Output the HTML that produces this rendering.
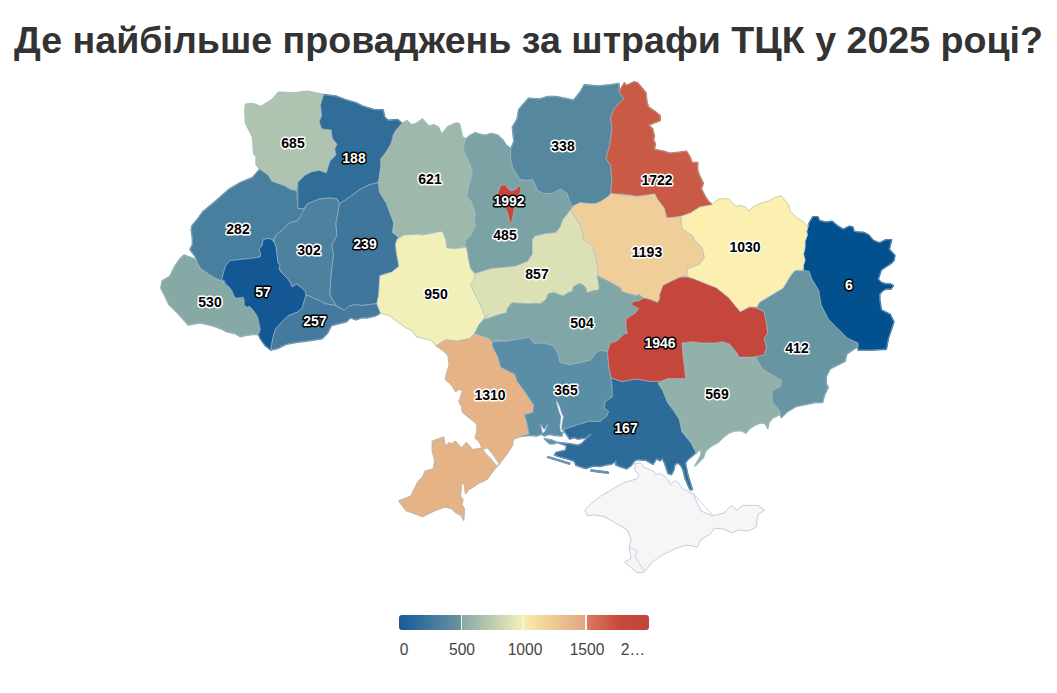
<!DOCTYPE html>
<html><head><meta charset="utf-8"><style>
html,body{margin:0;padding:0;background:#fff;}
body{width:1057px;height:693px;position:relative;overflow:hidden;font-family:"Liberation Sans",sans-serif;}
h1{position:absolute;left:0;top:0;width:1057px;margin:0;text-align:center;font-size:37.6px;line-height:40px;padding-top:20px;font-weight:bold;color:#333;white-space:nowrap;}
svg{position:absolute;left:0;top:0;}
.map path{stroke:#a9bccc;stroke-width:0.7;stroke-opacity:0.85;stroke-linejoin:round;}
.map path.cr{stroke:#bcc6de;stroke-width:0.9;stroke-opacity:1;}
.map path.crl{fill:none;stroke:#bcc6de;stroke-width:0.8;stroke-opacity:1;}
.map path.d{stroke-width:1.6;stroke-opacity:1;}
.lab text{font-family:"Liberation Sans",sans-serif;font-weight:bold;font-size:14px;fill:#000;stroke:#fff;stroke-width:3px;paint-order:stroke;stroke-linejoin:round;text-anchor:middle;dominant-baseline:central;}
.lab text.w{fill:#fff;stroke:#000;}
.legend{position:absolute;left:399px;top:615px;width:250px;height:15px;border-radius:3px;background:linear-gradient(90deg,#175a9b 0%,#6a92a0 24.5%,#86aba6 25.5%,#f3f0b8 49.5%,#f7eca9 50.5%,#e2a57e 74.5%,#d9785f 75.5%,#c8493c 88%,#c4433a 100%);}
.tick{position:absolute;top:615px;width:1.6px;height:15px;background:#f4f8fa;}
.ll{position:absolute;top:641px;font-size:15.6px;color:#444;transform:translateX(-50%);line-height:18px;}
</style></head><body>
<h1>Де найбільше проваджень за штрафи ТЦК у 2025 році?</h1>
<svg width="1057" height="693" viewBox="0 0 1057 693">
<g class="map"><path class="d" d="M245.6,104.3 L252.9,103.5 L260.9,106.7 L272.2,99.5 L278.6,92.2 L293.1,93.0 L307.5,91.4 L323.6,94.6 L320.5,105.0 L321.7,115.7 L319.3,121.7 L321.7,128.8 L331.2,130.0 L332.4,138.3 L337.1,144.3 L334.8,149.0 L336.0,155.0 L330.0,161.0 L326.4,172.9 L319.3,170.5 L312.1,171.7 L305.0,175.2 L297.9,182.4 L296.7,190.7 L290.7,189.5 L284.8,186.0 L271.7,181.2 L268.1,175.2 L259.8,169.3 L256.2,164.5 L256.2,156.2 L253.8,153.8 L252.6,137.1 L247.9,127.6 L245.5,122.9 L245.0,111.0Z" style="fill:#afc4b0;stroke:#afc4b0"/><path class="d" d="M323.6,94.6 L336.5,96.3 L344.5,99.5 L355.8,102.7 L362.2,105.9 L375.1,109.9 L383.1,109.9 L384.7,117.2 L388.0,120.4 L397.6,119.6 L402.4,123.6 L399.2,128.4 L393.1,134.8 L390.7,144.3 L383.6,156.2 L380.0,170.5 L378.8,182.4 L369.3,184.8 L359.8,189.5 L350.2,196.7 L339.5,203.8 L337.1,199.0 L330.0,197.9 L319.3,199.0 L307.4,203.8 L303.8,208.6 L297.9,208.6 L297.9,182.4 L305.0,175.2 L312.1,171.7 L319.3,170.5 L326.4,172.9 L330.0,161.0 L336.0,155.0 L334.8,149.0 L337.1,144.3 L332.4,138.3 L331.2,130.0 L321.7,128.8 L319.3,121.7 L321.7,115.7 L320.5,105.0Z" style="fill:#306e99;stroke:#306e99"/><path class="d" d="M259.8,169.3 L268.1,175.2 L271.7,181.2 L284.8,186.0 L290.7,189.5 L296.7,190.7 L297.9,208.6 L304.5,209.0 L303.8,215.7 L297.9,220.5 L289.5,222.9 L283.6,228.8 L276.4,234.8 L272.9,241.9 L272.5,239.7 L268.2,238.4 L263.2,239.7 L262.0,245.8 L258.9,249.5 L260.8,253.2 L260.2,256.9 L253.4,258.1 L241.1,259.4 L230.0,260.6 L225.7,265.5 L223.9,271.7 L221.4,280.9 L214.0,277.8 L206.7,272.9 L200.5,268.6 L196.8,261.8 L195.6,256.9 L190.1,249.5 L192.5,244.6 L192.5,238.4 L191.3,229.8 L191.9,226.1 L196.8,220.0 L196.7,220.5 L202.6,212.1 L216.9,200.2 L228.8,189.5 L240.7,182.4 L252.6,177.6Z" style="fill:#497f9e;stroke:#497f9e"/><path class="d" d="M183.9,255.1 L189.4,256.9 L195.6,259.4 L197.4,263.0 L200.5,268.6 L206.7,272.9 L214.0,277.8 L221.4,280.9 L226.3,285.2 L230.1,288.1 L232.1,291.1 L234.1,296.2 L236.2,298.2 L243.2,297.2 L244.2,300.2 L244.2,305.3 L247.3,307.3 L249.3,306.3 L253.3,310.3 L255.4,313.3 L257.4,316.4 L258.4,320.4 L259.4,325.5 L260.4,329.5 L258.4,334.5 L252.3,334.5 L246.3,335.1 L240.2,336.6 L235.2,333.5 L230.1,332.5 L226.1,331.5 L223.0,329.5 L220.0,328.5 L214.5,326.2 L200.2,322.6 L188.3,325.0 L178.8,314.3 L169.3,304.8 L164.5,295.2 L161.0,288.1 L162.1,281.0 L169.8,276.6 L174.7,266.7 L179.6,259.4Z" style="fill:#86a9a6;stroke:#86a9a6"/><path class="d" d="M221.4,280.9 L223.9,271.7 L225.7,265.5 L230.0,260.6 L241.1,259.4 L253.4,258.1 L260.2,256.9 L260.8,253.2 L258.9,249.5 L262.0,245.8 L263.2,239.7 L268.2,238.4 L272.5,239.7 L274.3,242.1 L275.9,246.0 L277.1,254.6 L277.8,262.0 L280.2,265.7 L279.0,268.1 L280.8,271.8 L285.7,276.7 L288.2,279.2 L290.7,282.9 L291.9,286.6 L296.8,284.1 L301.7,287.8 L305.4,291.5 L306.0,295.2 L302.0,308.4 L297.3,312.2 L287.8,316.0 L282.2,321.6 L275.5,329.2 L272.7,338.7 L270.8,350.0 L265.5,345.7 L262.4,341.6 L260.4,338.6 L258.4,334.5 L260.4,329.5 L259.4,325.5 L258.4,320.4 L257.4,316.4 L255.4,313.3 L253.3,310.3 L249.3,306.3 L247.3,307.3 L244.2,305.3 L244.2,300.2 L243.2,297.2 L236.2,298.2 L234.1,296.2 L232.1,291.1 L230.1,288.1 L226.1,284.0 L224.0,280.0Z" style="fill:#135895;stroke:#135895"/><path class="d" d="M304.5,209.0 L307.4,203.8 L319.3,199.0 L330.0,197.9 L337.1,199.0 L339.5,203.8 L338.3,211.0 L336.0,222.9 L336.8,236.1 L332.5,243.5 L331.9,246.0 L333.7,254.6 L332.5,263.2 L331.3,273.0 L330.6,282.9 L330.0,295.2 L333.7,301.3 L336.8,306.3 L333.7,305.0 L325.1,303.8 L321.4,301.3 L314.0,298.3 L310.3,296.4 L306.0,295.2 L305.4,291.5 L301.7,287.8 L296.8,284.1 L291.9,286.6 L290.7,282.9 L288.2,279.2 L285.7,276.7 L280.8,271.8 L279.0,268.1 L280.2,265.7 L277.8,262.0 L277.1,254.6 L275.9,246.0 L273.4,239.8 L272.9,241.9 L276.4,234.8 L283.6,228.8 L289.5,222.9 L297.9,220.5Z" style="fill:#4d829f;stroke:#4d829f"/><path class="d" d="M339.5,203.8 L350.2,196.7 L359.8,189.5 L369.3,184.8 L378.8,182.4 L379.5,191.9 L386.7,203.8 L390.2,213.3 L393.8,222.9 L392.6,232.4 L398.6,237.1 L395.5,244.8 L396.7,254.3 L399.0,266.2 L391.9,272.1 L380.0,275.7 L379.6,280.0 L378.7,295.1 L376.8,303.7 L369.2,304.6 L361.6,305.5 L354.1,304.6 L348.4,306.5 L344.6,310.3 L340.8,308.4 L336.8,306.3 L333.7,301.3 L330.0,295.2 L330.6,282.9 L331.3,273.0 L332.5,263.2 L333.7,254.6 L331.9,246.0 L332.5,243.5 L336.8,236.1 L336.0,222.9 L338.3,211.0Z" style="fill:#3e779b;stroke:#3e779b"/><path class="d" d="M306.0,295.2 L310.3,296.4 L314.0,298.3 L321.4,301.3 L325.1,303.8 L333.7,305.0 L336.8,306.3 L340.8,308.4 L344.6,310.3 L348.4,306.5 L354.1,304.6 L361.6,305.5 L369.2,304.6 L376.8,303.7 L380.6,313.1 L374.9,316.0 L367.3,317.8 L361.6,317.8 L356.0,319.7 L350.3,317.8 L346.5,321.6 L331.4,325.4 L327.6,333.0 L321.9,338.7 L310.5,340.5 L295.4,342.4 L286.0,344.3 L278.4,348.1 L270.8,350.0 L272.7,338.7 L275.5,329.2 L282.2,321.6 L287.8,316.0 L297.3,312.2 L302.0,308.4Z" style="fill:#437a9e;stroke:#437a9e"/><path class="d" d="M402.2,123.1 L407.1,120.7 L411.1,124.8 L415.9,123.9 L422.3,119.1 L428.8,126.4 L433.6,124.8 L438.4,127.2 L441.6,134.4 L448.1,126.4 L456.1,123.1 L459.3,123.9 L462.5,136.8 L465.8,139.2 L462.9,149.0 L467.6,158.6 L472.4,170.5 L468.5,186.9 L467.3,197.3 L470.8,200.8 L473.1,205.4 L475.4,214.6 L474.3,219.3 L475.4,226.2 L473.1,230.8 L470.8,235.4 L466.2,240.0 L465.0,244.7 L466.2,247.6 L460.4,248.1 L454.6,248.7 L446.6,248.1 L446.0,242.4 L444.8,237.7 L443.1,233.1 L440.8,231.4 L433.9,233.1 L424.6,234.8 L420.0,235.4 L403.8,235.2 L396.7,240.0 L398.6,237.1 L392.6,232.4 L393.8,222.9 L390.2,213.3 L386.7,203.8 L379.5,191.9 L378.3,182.4 L380.7,170.5 L380.7,158.6 L386.7,151.4 L392.6,141.9 L395.0,131.2Z" style="fill:#9eb9ab;stroke:#9eb9ab"/><path class="d" d="M465.8,139.2 L470.6,135.2 L475.4,132.8 L480.2,134.4 L485.1,135.2 L491.5,133.6 L497.9,135.2 L502.8,140.0 L506.0,144.9 L510.8,148.9 L510.5,158.6 L512.9,168.1 L520.0,179.6 L526.9,180.2 L532.7,179.6 L535.0,184.2 L537.3,190.0 L543.1,193.5 L552.3,193.5 L560.4,188.8 L563.8,191.2 L567.3,193.5 L568.5,198.1 L570.8,203.8 L573.1,206.2 L570.8,209.6 L567.3,214.2 L562.7,220.0 L560.4,226.9 L555.8,232.7 L545.4,233.8 L535.0,236.2 L532.4,240.0 L532.4,254.3 L527.6,261.4 L515.7,266.2 L506.2,267.4 L491.9,268.6 L480.0,272.1 L475.2,273.3 L470.5,268.6 L468.1,261.4 L466.2,249.5 L466.2,247.6 L465.0,244.7 L466.2,240.0 L470.8,235.4 L473.1,230.8 L475.4,226.2 L474.3,219.3 L475.4,214.6 L473.1,205.4 L470.8,200.8 L467.3,197.3 L468.5,186.9 L470.8,180.0 L472.4,170.5 L467.6,158.6 L462.9,149.0Z" style="fill:#7ba2a4;stroke:#7ba2a4"/><path class="d" d="M510.8,148.9 L514.0,141.6 L512.4,127.2 L517.2,119.1 L518.8,109.5 L528.5,98.2 L539.7,99.0 L547.8,96.6 L555.8,96.6 L565.0,98.2 L562.9,97.9 L573.6,100.2 L579.5,93.1 L584.3,84.8 L598.6,86.0 L610.5,84.8 L618.8,83.6 L619.0,84.5 L619.0,91.7 L623.8,98.8 L614.3,108.3 L610.7,117.9 L611.9,129.8 L609.5,146.4 L606.0,158.3 L610.7,165.5 L611.9,179.8 L610.7,194.0 L611.2,193.5 L607.7,196.9 L600.8,201.5 L595.0,203.8 L589.2,203.8 L585.8,203.3 L580.0,202.7 L573.1,206.2 L570.8,203.8 L568.5,198.1 L567.3,193.5 L563.8,191.2 L560.4,188.8 L552.3,193.5 L543.1,193.5 L537.3,190.0 L535.0,184.2 L532.7,179.6 L526.9,180.2 L520.0,179.6 L512.9,168.1 L510.5,158.6Z" style="fill:#55889f;stroke:#55889f"/><path class="d" d="M624.4,82.8 L626.3,85.6 L633.8,81.9 L637.5,82.8 L643.2,89.4 L646.0,93.1 L646.9,102.5 L648.8,107.2 L655.4,111.9 L660.1,115.7 L660.1,120.4 L648.8,125.1 L652.5,128.8 L654.4,136.3 L653.5,140.1 L655.4,143.8 L654.4,149.5 L663.8,151.3 L669.4,153.2 L678.8,152.3 L686.3,151.3 L690.1,157.0 L692.0,162.6 L697.6,162.6 L697.6,170.1 L699.5,175.7 L703.2,183.2 L701.3,188.9 L705.1,196.4 L708.9,202.0 L712.6,204.8 L700.0,207.1 L690.5,213.1 L683.3,215.5 L671.4,217.9 L666.7,217.9 L664.3,208.3 L657.1,198.8 L654.8,194.0 L638.1,196.4 L623.8,194.0 L610.7,194.0 L611.9,179.8 L610.7,165.5 L606.0,158.3 L609.5,146.4 L611.9,129.8 L610.7,117.9 L614.3,108.3 L623.8,98.8 L619.0,91.7Z" style="fill:#c95a45;stroke:#c95a45"/><path class="d" d="M570.8,209.6 L573.1,206.2 L580.0,202.7 L585.8,203.3 L589.2,203.8 L595.0,203.8 L600.8,201.5 L607.7,196.9 L611.2,193.5 L618.1,194.6 L623.8,195.8 L630.8,195.8 L635.4,196.9 L640.0,195.8 L638.1,196.4 L654.8,194.0 L657.1,198.8 L664.3,208.3 L666.7,217.9 L680.7,216.7 L681.9,228.6 L692.6,235.7 L695.0,240.5 L702.1,247.6 L704.5,257.1 L699.8,264.3 L687.9,269.0 L686.7,276.2 L680.0,277.3 L672.4,280.8 L667.8,283.1 L663.1,285.4 L659.7,294.6 L659.7,299.3 L657.4,302.7 L655.1,301.6 L649.3,299.3 L643.5,298.1 L638.9,294.6 L635.4,295.8 L633.1,294.6 L627.3,293.5 L621.6,291.2 L620.4,287.7 L615.8,285.4 L610.0,281.9 L603.1,278.5 L597.3,275.0 L597.9,271.5 L597.3,265.8 L593.9,260.0 L595.5,256.7 L583.5,240.0 L582.3,231.5 L580.0,224.6 L575.4,217.7Z" style="fill:#f0ce99;stroke:#f0ce99"/><path class="d" d="M470.5,275.7 L480.0,272.1 L491.9,268.6 L515.7,266.2 L527.6,261.4 L532.4,254.3 L532.4,240.0 L535.0,236.2 L545.4,233.8 L555.8,232.7 L560.4,226.9 L562.7,220.0 L567.3,214.2 L570.8,209.6 L575.4,217.7 L580.0,224.6 L582.3,231.5 L583.5,240.0 L591.9,244.8 L595.5,256.7 L597.3,265.8 L597.9,271.5 L597.3,276.2 L598.5,283.1 L599.1,287.7 L598.5,290.0 L593.9,290.6 L588.1,292.3 L586.9,292.5 L585.8,287.9 L582.4,284.5 L579.0,283.4 L573.3,286.8 L572.2,291.4 L568.8,292.5 L563.1,295.9 L559.7,294.8 L554.0,292.5 L548.3,293.6 L546.1,299.3 L540.4,303.8 L534.7,303.3 L529.0,303.8 L521.1,303.3 L512.0,302.7 L507.5,308.4 L506.3,312.9 L500.7,314.1 L490.4,317.5 L483.6,319.7 L480.0,304.3 L475.2,294.8 L470.5,285.2Z" style="fill:#dbe1b4;stroke:#dbe1b4"/><path class="d" d="M420.0,235.4 L424.6,234.8 L433.9,233.1 L440.8,231.4 L443.1,233.1 L444.8,237.7 L446.0,242.4 L446.6,248.1 L454.6,248.7 L460.4,248.1 L466.2,247.6 L467.3,251.6 L468.5,260.0 L470.5,268.6 L475.2,275.7 L470.5,285.2 L475.2,294.8 L480.0,304.3 L484.8,316.2 L480.0,325.7 L474.3,333.8 L469.5,338.6 L457.6,341.0 L445.7,339.8 L436.2,345.7 L431.6,340.5 L424.1,338.7 L416.5,336.8 L412.7,331.1 L405.2,327.3 L397.6,321.6 L390.0,316.0 L380.6,313.1 L376.8,303.7 L378.7,295.1 L379.6,280.0 L380.0,275.7 L391.9,272.1 L399.0,266.2 L396.7,254.3 L395.5,244.8 L396.7,240.0 L403.8,235.2 L422.9,234.0Z" style="fill:#f2f0b9;stroke:#f2f0b9"/><path class="d" d="M483.6,319.7 L490.4,317.5 L500.7,314.1 L506.3,312.9 L507.5,308.4 L512.0,302.7 L521.1,303.3 L529.0,303.8 L534.7,303.3 L540.4,303.8 L546.1,299.3 L548.3,293.6 L554.0,292.5 L559.7,294.8 L563.1,295.9 L568.8,292.5 L572.2,291.4 L573.3,286.8 L579.0,283.4 L582.4,284.5 L585.8,287.9 L586.9,292.5 L588.1,292.3 L593.9,290.6 L598.5,290.0 L599.1,287.7 L598.5,283.1 L597.3,276.2 L603.1,278.5 L610.0,281.9 L615.8,285.4 L620.4,287.7 L621.6,291.2 L627.3,293.5 L633.1,294.6 L635.4,295.8 L638.9,294.6 L643.5,298.1 L640.0,300.4 L634.3,301.6 L630.8,303.9 L634.3,306.2 L638.9,308.5 L635.4,313.1 L629.7,316.6 L626.2,318.9 L626.2,327.0 L627.3,333.9 L625.0,340.0 L617.1,341.0 L610.0,343.3 L607.6,352.9 L600.5,350.5 L595.7,352.9 L591.0,360.0 L581.4,362.4 L569.5,364.8 L560.0,362.4 L557.6,352.9 L552.9,345.7 L543.3,343.3 L533.8,343.3 L529.0,337.4 L521.9,338.6 L507.6,341.0 L495.7,339.8 L492.1,342.1 L488.6,338.6 L481.4,336.2 L474.3,333.8 L479.0,324.3 L483.8,319.5 L488.6,313.6Z" style="fill:#80a6a6;stroke:#80a6a6"/><path class="d" d="M436.2,345.7 L445.7,339.8 L457.6,341.0 L469.5,338.6 L474.3,333.8 L481.4,336.2 L488.6,338.6 L492.1,342.1 L492.1,345.7 L498.1,357.6 L500.5,367.1 L510.0,371.9 L514.8,374.3 L517.1,381.4 L524.3,391.0 L529.0,398.1 L533.8,405.2 L532.6,412.4 L524.3,414.8 L526.7,421.9 L529.0,433.8 L527.6,434.3 L513.3,439.0 L512.3,445.6 L506.8,453.8 L498.6,464.8 L494.5,468.9 L487.6,478.5 L483.5,481.2 L479.4,482.6 L475.3,485.4 L471.2,488.1 L468.4,489.5 L465.7,493.6 L464.3,484.0 L461.6,482.6 L460.2,496.3 L462.9,499.8 L461.6,504.6 L464.3,508.7 L463.6,520.1 L461.0,515.2 L456.2,512.9 L451.4,508.1 L444.3,506.9 L434.8,510.5 L430.0,512.9 L422.9,516.4 L415.7,514.0 L406.2,510.5 L402.6,505.7 L399.0,501.0 L411.0,496.2 L413.3,491.4 L418.1,481.9 L422.9,477.1 L425.2,471.2 L433.6,468.8 L434.8,460.5 L432.4,451.0 L432.4,441.4 L435.5,440.1 L443.7,437.3 L445.1,446.9 L449.2,442.8 L451.9,444.2 L455.4,441.5 L461.6,448.3 L466.4,442.8 L472.5,449.7 L482.1,448.3 L479.4,441.5 L475.3,438.0 L476.6,433.2 L477.3,425.0 L474.6,421.6 L468.6,417.2 L462.5,412.0 L461.6,406.0 L459.0,401.6 L460.8,397.3 L462.5,391.3 L459.9,388.7 L455.6,391.3 L453.0,386.9 L449.5,382.6 L446.1,380.0 L445.7,376.7 L449.3,364.8 L448.1,355.2 L443.3,350.5Z" style="fill:#e6b386;stroke:#e6b386"/><path class="d" d="M492.1,342.1 L507.6,341.0 L521.9,338.6 L529.0,337.4 L533.8,343.3 L543.3,343.3 L552.9,345.7 L557.6,352.9 L560.0,362.4 L569.5,364.8 L581.4,362.4 L591.0,360.0 L595.7,352.9 L600.5,350.5 L607.6,351.7 L608.8,367.1 L611.2,377.9 L612.3,390.0 L612.3,396.9 L605.4,401.5 L604.2,407.3 L608.8,411.9 L606.5,416.5 L603.1,418.8 L600.8,421.2 L595.0,421.7 L589.2,421.2 L582.3,423.5 L577.7,424.6 L571.9,426.9 L566.2,428.7 L564.1,428.7 L561.7,435.9 L553.8,435.1 L549.0,434.3 L544.3,435.9 L541.1,434.3 L536.3,435.9 L530.0,435.1 L520.0,436.2 L529.0,433.8 L526.7,421.9 L524.3,414.8 L532.6,412.4 L533.8,405.2 L529.0,398.1 L524.3,391.0 L517.1,381.4 L514.8,374.3 L510.0,371.9 L500.5,367.1 L498.1,357.6 L492.1,345.7Z" style="fill:#5a8da6;stroke:#5a8da6"/><path class="d" d="M611.2,377.9 L621.9,381.4 L636.2,379.0 L650.5,381.4 L660.0,381.4 L658.1,383.3 L662.9,390.5 L667.6,402.4 L672.4,409.5 L679.5,419.5 L681.9,431.4 L691.4,443.3 L696.2,452.9 L694.6,453.8 L687.7,459.6 L685.4,463.1 L687.7,474.6 L692.3,489.6 L690.0,489.6 L685.4,479.2 L683.1,470.0 L680.8,465.4 L678.5,463.1 L675.0,464.2 L673.8,470.0 L671.5,474.6 L668.1,473.5 L664.6,463.1 L662.3,458.5 L660.0,460.8 L656.5,458.5 L653.1,464.2 L646.2,460.2 L638.1,459.6 L634.6,460.8 L631.2,465.4 L626.5,468.8 L619.6,466.5 L615.6,464.8 L616.2,460.8 L611.5,464.2 L606.9,464.8 L600.0,466.5 L593.5,466.0 L585.6,468.4 L576.0,465.2 L574.4,461.3 L564.9,458.1 L558.6,456.5 L554.6,454.9 L556.2,452.5 L565.7,450.2 L566.5,445.4 L557.0,442.6 L561.7,443.0 L569.7,443.8 L577.6,445.4 L581.6,443.8 L591.1,434.3 L584.0,438.3 L577.6,439.0 L574.4,437.5 L569.7,439.0 L564.9,431.9 L564.1,428.7 L566.2,428.7 L571.9,426.9 L577.7,424.6 L582.3,423.5 L589.2,421.2 L595.0,421.7 L600.8,421.2 L603.1,418.8 L606.5,416.5 L608.8,411.9 L604.2,407.3 L605.4,401.5 L612.3,396.9 L612.3,390.0Z" style="fill:#2d6b98;stroke:#2d6b98"/><path class="d" d="M658.1,383.3 L667.6,378.6 L685.5,378.6 L684.3,366.7 L683.1,357.1 L681.9,342.9 L691.4,341.7 L703.3,342.9 L715.2,342.9 L722.4,341.7 L729.5,344.0 L736.7,352.4 L739.0,357.1 L753.3,357.1 L755.7,352.4 L758.1,359.5 L762.9,369.0 L774.8,376.2 L781.9,381.0 L779.5,388.1 L772.4,395.2 L774.8,402.4 L779.5,409.5 L779.5,414.8 L772.3,418.1 L768.8,422.7 L767.7,428.5 L765.4,423.8 L760.8,422.7 L755.0,425.0 L749.2,428.5 L745.8,433.1 L742.3,430.8 L735.4,430.8 L728.5,433.1 L722.7,437.7 L718.1,442.3 L710.0,446.9 L705.4,451.5 L703.3,457.6 L695.0,466.0 L701.0,455.2 L701.0,448.1 L696.2,452.9 L691.4,443.3 L681.9,431.4 L679.5,419.5 L674.8,410.0 L667.6,402.4 L662.9,390.5Z" style="fill:#92b1ab;stroke:#92b1ab"/><path class="d" d="M756.4,307.9 L759.3,302.4 L771.2,295.2 L783.1,288.1 L790.2,276.2 L795.0,270.2 L803.3,270.2 L809.3,271.4 L811.7,278.6 L818.8,290.5 L821.2,304.8 L828.3,319.0 L835.5,326.2 L847.4,338.1 L858.1,342.9 L858.2,346.3 L852.5,350.0 L846.9,353.8 L845.0,361.3 L837.5,365.0 L830.0,368.8 L826.3,376.3 L826.3,383.8 L828.2,387.5 L824.4,395.0 L822.5,402.5 L815.0,402.5 L805.7,404.4 L796.3,406.3 L786.9,411.9 L781.3,417.5 L779.4,410.0 L772.8,402.5 L771.9,391.3 L781.3,385.7 L781.3,380.0 L768.1,372.5 L762.5,368.8 L756.9,359.4 L755.0,353.8 L764.0,354.8 L766.4,347.6 L764.0,338.1 L767.6,333.3 L766.4,323.8 L764.0,311.9Z" style="fill:#6796a2;stroke:#6796a2"/><path class="d" d="M813.0,216.7 L817.8,216.7 L819.4,220.6 L825.7,222.2 L832.1,221.4 L836.8,225.4 L843.2,229.4 L849.5,226.2 L852.7,227.0 L854.3,231.7 L863.8,232.5 L868.6,234.9 L873.3,240.5 L879.7,242.9 L886.0,239.7 L891.6,239.7 L890.0,246.0 L889.2,249.2 L894.8,255.6 L894.0,260.3 L890.8,263.5 L886.0,266.7 L881.3,269.8 L879.7,274.6 L878.1,279.4 L881.3,282.5 L886.0,284.1 L890.8,284.1 L893.2,285.7 L890.8,288.9 L886.0,288.9 L882.9,290.5 L879.7,293.7 L879.7,300.0 L881.3,310.0 L890.1,314.4 L893.8,321.9 L888.2,338.8 L886.3,349.1 L871.3,350.0 L858.2,350.0 L858.1,342.9 L847.4,338.1 L835.5,326.2 L828.3,319.0 L821.2,304.8 L818.8,290.5 L811.7,278.6 L809.3,271.4 L803.3,270.2 L803.5,265.1 L805.1,260.3 L803.5,254.0 L805.1,247.6 L805.1,241.3 L807.5,234.9 L806.7,231.7 L808.3,225.4 L809.8,222.2Z" style="fill:#03508f;stroke:#03508f"/><path class="d" d="M681.0,217.9 L683.3,215.5 L690.5,213.1 L700.0,207.1 L711.9,204.8 L718.4,199.2 L728.3,198.6 L735.7,206.6 L740.6,205.4 L745.5,207.2 L748.6,210.9 L752.9,207.2 L761.5,202.9 L768.9,201.1 L775.0,197.4 L781.2,196.1 L788.6,204.8 L789.8,210.9 L797.2,218.3 L803.3,222.0 L808.2,226.9 L808.3,225.4 L806.7,231.7 L807.5,234.9 L805.1,241.3 L805.1,247.6 L803.5,254.0 L805.1,260.3 L803.5,265.1 L803.3,270.2 L795.0,270.2 L790.2,276.2 L783.1,288.1 L771.2,295.2 L759.3,302.4 L756.9,307.1 L749.8,307.1 L740.2,311.9 L728.3,297.6 L716.4,288.1 L692.6,278.6 L686.7,276.2 L687.9,269.0 L699.8,264.3 L704.5,257.1 L702.1,247.6 L695.0,240.5 L692.6,235.7 L681.9,228.6 L681.2,220.2Z" style="fill:#fcf0b1;stroke:#fcf0b1"/><path class="d" d="M643.5,298.1 L649.3,299.3 L655.1,301.6 L657.4,302.7 L659.7,299.3 L659.7,294.6 L663.1,285.4 L667.8,283.1 L672.4,280.8 L680.0,277.3 L686.7,277.4 L692.6,278.6 L716.4,288.1 L728.3,297.6 L740.2,311.9 L749.8,307.1 L756.9,308.3 L764.0,311.9 L766.4,323.8 L767.6,333.3 L764.0,338.1 L766.4,347.6 L764.0,354.8 L753.3,357.1 L739.0,357.1 L736.7,352.4 L729.5,344.0 L722.4,341.7 L715.2,342.9 L703.3,342.9 L691.4,341.7 L681.9,342.9 L683.1,357.1 L684.3,366.7 L685.5,378.6 L667.6,378.6 L660.0,381.4 L650.5,381.4 L636.2,379.0 L621.9,381.4 L611.2,377.9 L608.8,367.1 L607.6,351.7 L610.0,343.3 L617.1,341.0 L624.3,333.8 L627.3,333.9 L626.2,327.0 L626.2,318.9 L629.7,316.6 L635.4,313.1 L638.9,308.5 L634.3,306.2 L630.8,303.9 L634.3,301.6 L640.0,300.4Z" style="fill:#c5463a;stroke:#c5463a"/><path class="d" d="M500.8,185.2 L505.2,184.9 L508.8,189.6 L511.7,191.0 L516.7,188.8 L518.9,185.9 L521.0,187.4 L520.3,192.4 L517.4,196.8 L515.3,201.8 L515.3,206.9 L513.8,209.8 L513.1,215.5 L512.0,219.9 L511.7,223.5 L510.2,223.5 L509.1,218.4 L507.7,213.4 L506.2,209.8 L504.4,206.9 L500.8,201.1 L498.7,196.1 L497.9,192.4 L499.4,189.6Z" style="fill:#c8453a;stroke:#c8453a"/><path class="d" d="M544.3,438.7 L550.6,439.8 L557.0,442.2 L553.8,443.8 L549.8,443.8Z" style="fill:#5a8da6;stroke:#5a8da6"/><path class="d" d="M547.5,457.3 L549.0,457.1 L569.7,463.3 L569.3,464.1Z" style="fill:#2d6b98;stroke:#2d6b98"/><path class="d" d="M591.1,470.0 L607.8,472.0 L608.2,473.3 L591.1,471.0Z" style="fill:#2d6b98;stroke:#2d6b98"/><path class="cr" d="M634.9,463.8 L640.5,462.8 L644.3,467.6 L650.0,469.5 L653.8,471.4 L655.7,475.1 L659.5,473.2 L663.3,475.1 L667.0,478.9 L670.8,484.6 L674.6,480.8 L678.4,482.7 L682.2,488.4 L689.7,492.2 L693.5,494.1 L697.3,503.5 L701.1,511.1 L712.5,515.8 L723.8,513.0 L731.4,505.4 L737.0,510.1 L742.7,505.4 L757.9,505.4 L764.5,510.1 L757.9,514.9 L756.0,527.2 L748.4,531.0 L738.9,530.0 L731.4,532.8 L723.8,529.1 L714.3,528.1 L710.6,533.8 L701.1,539.5 L697.3,547.0 L686.0,545.1 L674.6,548.9 L663.3,554.6 L651.9,562.2 L646.2,569.7 L642.4,572.6 L636.8,572.6 L629.2,566.0 L624.5,562.2 L631.1,558.4 L629.2,547.0 L631.1,539.5 L627.3,530.0 L617.8,524.3 L604.6,516.8 L595.1,514.9 L587.6,515.8 L584.7,510.1 L591.4,503.5 L600.8,496.0 L612.2,489.3 L623.5,482.7 L636.8,478.9 L638.7,475.1 L634.9,469.5Z" fill="#f6f6f6"/><path d="M245.6,104.3 L252.9,103.5 L260.9,106.7 L272.2,99.5 L278.6,92.2 L293.1,93.0 L307.5,91.4 L323.6,94.6 L320.5,105.0 L321.7,115.7 L319.3,121.7 L321.7,128.8 L331.2,130.0 L332.4,138.3 L337.1,144.3 L334.8,149.0 L336.0,155.0 L330.0,161.0 L326.4,172.9 L319.3,170.5 L312.1,171.7 L305.0,175.2 L297.9,182.4 L296.7,190.7 L290.7,189.5 L284.8,186.0 L271.7,181.2 L268.1,175.2 L259.8,169.3 L256.2,164.5 L256.2,156.2 L253.8,153.8 L252.6,137.1 L247.9,127.6 L245.5,122.9 L245.0,111.0Z" fill="#afc4b0"/><path d="M323.6,94.6 L336.5,96.3 L344.5,99.5 L355.8,102.7 L362.2,105.9 L375.1,109.9 L383.1,109.9 L384.7,117.2 L388.0,120.4 L397.6,119.6 L402.4,123.6 L399.2,128.4 L393.1,134.8 L390.7,144.3 L383.6,156.2 L380.0,170.5 L378.8,182.4 L369.3,184.8 L359.8,189.5 L350.2,196.7 L339.5,203.8 L337.1,199.0 L330.0,197.9 L319.3,199.0 L307.4,203.8 L303.8,208.6 L297.9,208.6 L297.9,182.4 L305.0,175.2 L312.1,171.7 L319.3,170.5 L326.4,172.9 L330.0,161.0 L336.0,155.0 L334.8,149.0 L337.1,144.3 L332.4,138.3 L331.2,130.0 L321.7,128.8 L319.3,121.7 L321.7,115.7 L320.5,105.0Z" fill="#306e99"/><path d="M259.8,169.3 L268.1,175.2 L271.7,181.2 L284.8,186.0 L290.7,189.5 L296.7,190.7 L297.9,208.6 L304.5,209.0 L303.8,215.7 L297.9,220.5 L289.5,222.9 L283.6,228.8 L276.4,234.8 L272.9,241.9 L272.5,239.7 L268.2,238.4 L263.2,239.7 L262.0,245.8 L258.9,249.5 L260.8,253.2 L260.2,256.9 L253.4,258.1 L241.1,259.4 L230.0,260.6 L225.7,265.5 L223.9,271.7 L221.4,280.9 L214.0,277.8 L206.7,272.9 L200.5,268.6 L196.8,261.8 L195.6,256.9 L190.1,249.5 L192.5,244.6 L192.5,238.4 L191.3,229.8 L191.9,226.1 L196.8,220.0 L196.7,220.5 L202.6,212.1 L216.9,200.2 L228.8,189.5 L240.7,182.4 L252.6,177.6Z" fill="#497f9e"/><path d="M183.9,255.1 L189.4,256.9 L195.6,259.4 L197.4,263.0 L200.5,268.6 L206.7,272.9 L214.0,277.8 L221.4,280.9 L226.3,285.2 L230.1,288.1 L232.1,291.1 L234.1,296.2 L236.2,298.2 L243.2,297.2 L244.2,300.2 L244.2,305.3 L247.3,307.3 L249.3,306.3 L253.3,310.3 L255.4,313.3 L257.4,316.4 L258.4,320.4 L259.4,325.5 L260.4,329.5 L258.4,334.5 L252.3,334.5 L246.3,335.1 L240.2,336.6 L235.2,333.5 L230.1,332.5 L226.1,331.5 L223.0,329.5 L220.0,328.5 L214.5,326.2 L200.2,322.6 L188.3,325.0 L178.8,314.3 L169.3,304.8 L164.5,295.2 L161.0,288.1 L162.1,281.0 L169.8,276.6 L174.7,266.7 L179.6,259.4Z" fill="#86a9a6"/><path d="M221.4,280.9 L223.9,271.7 L225.7,265.5 L230.0,260.6 L241.1,259.4 L253.4,258.1 L260.2,256.9 L260.8,253.2 L258.9,249.5 L262.0,245.8 L263.2,239.7 L268.2,238.4 L272.5,239.7 L274.3,242.1 L275.9,246.0 L277.1,254.6 L277.8,262.0 L280.2,265.7 L279.0,268.1 L280.8,271.8 L285.7,276.7 L288.2,279.2 L290.7,282.9 L291.9,286.6 L296.8,284.1 L301.7,287.8 L305.4,291.5 L306.0,295.2 L302.0,308.4 L297.3,312.2 L287.8,316.0 L282.2,321.6 L275.5,329.2 L272.7,338.7 L270.8,350.0 L265.5,345.7 L262.4,341.6 L260.4,338.6 L258.4,334.5 L260.4,329.5 L259.4,325.5 L258.4,320.4 L257.4,316.4 L255.4,313.3 L253.3,310.3 L249.3,306.3 L247.3,307.3 L244.2,305.3 L244.2,300.2 L243.2,297.2 L236.2,298.2 L234.1,296.2 L232.1,291.1 L230.1,288.1 L226.1,284.0 L224.0,280.0Z" fill="#135895"/><path d="M304.5,209.0 L307.4,203.8 L319.3,199.0 L330.0,197.9 L337.1,199.0 L339.5,203.8 L338.3,211.0 L336.0,222.9 L336.8,236.1 L332.5,243.5 L331.9,246.0 L333.7,254.6 L332.5,263.2 L331.3,273.0 L330.6,282.9 L330.0,295.2 L333.7,301.3 L336.8,306.3 L333.7,305.0 L325.1,303.8 L321.4,301.3 L314.0,298.3 L310.3,296.4 L306.0,295.2 L305.4,291.5 L301.7,287.8 L296.8,284.1 L291.9,286.6 L290.7,282.9 L288.2,279.2 L285.7,276.7 L280.8,271.8 L279.0,268.1 L280.2,265.7 L277.8,262.0 L277.1,254.6 L275.9,246.0 L273.4,239.8 L272.9,241.9 L276.4,234.8 L283.6,228.8 L289.5,222.9 L297.9,220.5Z" fill="#4d829f"/><path d="M339.5,203.8 L350.2,196.7 L359.8,189.5 L369.3,184.8 L378.8,182.4 L379.5,191.9 L386.7,203.8 L390.2,213.3 L393.8,222.9 L392.6,232.4 L398.6,237.1 L395.5,244.8 L396.7,254.3 L399.0,266.2 L391.9,272.1 L380.0,275.7 L379.6,280.0 L378.7,295.1 L376.8,303.7 L369.2,304.6 L361.6,305.5 L354.1,304.6 L348.4,306.5 L344.6,310.3 L340.8,308.4 L336.8,306.3 L333.7,301.3 L330.0,295.2 L330.6,282.9 L331.3,273.0 L332.5,263.2 L333.7,254.6 L331.9,246.0 L332.5,243.5 L336.8,236.1 L336.0,222.9 L338.3,211.0Z" fill="#3e779b"/><path d="M306.0,295.2 L310.3,296.4 L314.0,298.3 L321.4,301.3 L325.1,303.8 L333.7,305.0 L336.8,306.3 L340.8,308.4 L344.6,310.3 L348.4,306.5 L354.1,304.6 L361.6,305.5 L369.2,304.6 L376.8,303.7 L380.6,313.1 L374.9,316.0 L367.3,317.8 L361.6,317.8 L356.0,319.7 L350.3,317.8 L346.5,321.6 L331.4,325.4 L327.6,333.0 L321.9,338.7 L310.5,340.5 L295.4,342.4 L286.0,344.3 L278.4,348.1 L270.8,350.0 L272.7,338.7 L275.5,329.2 L282.2,321.6 L287.8,316.0 L297.3,312.2 L302.0,308.4Z" fill="#437a9e"/><path d="M402.2,123.1 L407.1,120.7 L411.1,124.8 L415.9,123.9 L422.3,119.1 L428.8,126.4 L433.6,124.8 L438.4,127.2 L441.6,134.4 L448.1,126.4 L456.1,123.1 L459.3,123.9 L462.5,136.8 L465.8,139.2 L462.9,149.0 L467.6,158.6 L472.4,170.5 L468.5,186.9 L467.3,197.3 L470.8,200.8 L473.1,205.4 L475.4,214.6 L474.3,219.3 L475.4,226.2 L473.1,230.8 L470.8,235.4 L466.2,240.0 L465.0,244.7 L466.2,247.6 L460.4,248.1 L454.6,248.7 L446.6,248.1 L446.0,242.4 L444.8,237.7 L443.1,233.1 L440.8,231.4 L433.9,233.1 L424.6,234.8 L420.0,235.4 L403.8,235.2 L396.7,240.0 L398.6,237.1 L392.6,232.4 L393.8,222.9 L390.2,213.3 L386.7,203.8 L379.5,191.9 L378.3,182.4 L380.7,170.5 L380.7,158.6 L386.7,151.4 L392.6,141.9 L395.0,131.2Z" fill="#9eb9ab"/><path d="M465.8,139.2 L470.6,135.2 L475.4,132.8 L480.2,134.4 L485.1,135.2 L491.5,133.6 L497.9,135.2 L502.8,140.0 L506.0,144.9 L510.8,148.9 L510.5,158.6 L512.9,168.1 L520.0,179.6 L526.9,180.2 L532.7,179.6 L535.0,184.2 L537.3,190.0 L543.1,193.5 L552.3,193.5 L560.4,188.8 L563.8,191.2 L567.3,193.5 L568.5,198.1 L570.8,203.8 L573.1,206.2 L570.8,209.6 L567.3,214.2 L562.7,220.0 L560.4,226.9 L555.8,232.7 L545.4,233.8 L535.0,236.2 L532.4,240.0 L532.4,254.3 L527.6,261.4 L515.7,266.2 L506.2,267.4 L491.9,268.6 L480.0,272.1 L475.2,273.3 L470.5,268.6 L468.1,261.4 L466.2,249.5 L466.2,247.6 L465.0,244.7 L466.2,240.0 L470.8,235.4 L473.1,230.8 L475.4,226.2 L474.3,219.3 L475.4,214.6 L473.1,205.4 L470.8,200.8 L467.3,197.3 L468.5,186.9 L470.8,180.0 L472.4,170.5 L467.6,158.6 L462.9,149.0Z" fill="#7ba2a4"/><path d="M510.8,148.9 L514.0,141.6 L512.4,127.2 L517.2,119.1 L518.8,109.5 L528.5,98.2 L539.7,99.0 L547.8,96.6 L555.8,96.6 L565.0,98.2 L562.9,97.9 L573.6,100.2 L579.5,93.1 L584.3,84.8 L598.6,86.0 L610.5,84.8 L618.8,83.6 L619.0,84.5 L619.0,91.7 L623.8,98.8 L614.3,108.3 L610.7,117.9 L611.9,129.8 L609.5,146.4 L606.0,158.3 L610.7,165.5 L611.9,179.8 L610.7,194.0 L611.2,193.5 L607.7,196.9 L600.8,201.5 L595.0,203.8 L589.2,203.8 L585.8,203.3 L580.0,202.7 L573.1,206.2 L570.8,203.8 L568.5,198.1 L567.3,193.5 L563.8,191.2 L560.4,188.8 L552.3,193.5 L543.1,193.5 L537.3,190.0 L535.0,184.2 L532.7,179.6 L526.9,180.2 L520.0,179.6 L512.9,168.1 L510.5,158.6Z" fill="#55889f"/><path d="M624.4,82.8 L626.3,85.6 L633.8,81.9 L637.5,82.8 L643.2,89.4 L646.0,93.1 L646.9,102.5 L648.8,107.2 L655.4,111.9 L660.1,115.7 L660.1,120.4 L648.8,125.1 L652.5,128.8 L654.4,136.3 L653.5,140.1 L655.4,143.8 L654.4,149.5 L663.8,151.3 L669.4,153.2 L678.8,152.3 L686.3,151.3 L690.1,157.0 L692.0,162.6 L697.6,162.6 L697.6,170.1 L699.5,175.7 L703.2,183.2 L701.3,188.9 L705.1,196.4 L708.9,202.0 L712.6,204.8 L700.0,207.1 L690.5,213.1 L683.3,215.5 L671.4,217.9 L666.7,217.9 L664.3,208.3 L657.1,198.8 L654.8,194.0 L638.1,196.4 L623.8,194.0 L610.7,194.0 L611.9,179.8 L610.7,165.5 L606.0,158.3 L609.5,146.4 L611.9,129.8 L610.7,117.9 L614.3,108.3 L623.8,98.8 L619.0,91.7Z" fill="#c95a45"/><path d="M570.8,209.6 L573.1,206.2 L580.0,202.7 L585.8,203.3 L589.2,203.8 L595.0,203.8 L600.8,201.5 L607.7,196.9 L611.2,193.5 L618.1,194.6 L623.8,195.8 L630.8,195.8 L635.4,196.9 L640.0,195.8 L638.1,196.4 L654.8,194.0 L657.1,198.8 L664.3,208.3 L666.7,217.9 L680.7,216.7 L681.9,228.6 L692.6,235.7 L695.0,240.5 L702.1,247.6 L704.5,257.1 L699.8,264.3 L687.9,269.0 L686.7,276.2 L680.0,277.3 L672.4,280.8 L667.8,283.1 L663.1,285.4 L659.7,294.6 L659.7,299.3 L657.4,302.7 L655.1,301.6 L649.3,299.3 L643.5,298.1 L638.9,294.6 L635.4,295.8 L633.1,294.6 L627.3,293.5 L621.6,291.2 L620.4,287.7 L615.8,285.4 L610.0,281.9 L603.1,278.5 L597.3,275.0 L597.9,271.5 L597.3,265.8 L593.9,260.0 L595.5,256.7 L583.5,240.0 L582.3,231.5 L580.0,224.6 L575.4,217.7Z" fill="#f0ce99"/><path d="M470.5,275.7 L480.0,272.1 L491.9,268.6 L515.7,266.2 L527.6,261.4 L532.4,254.3 L532.4,240.0 L535.0,236.2 L545.4,233.8 L555.8,232.7 L560.4,226.9 L562.7,220.0 L567.3,214.2 L570.8,209.6 L575.4,217.7 L580.0,224.6 L582.3,231.5 L583.5,240.0 L591.9,244.8 L595.5,256.7 L597.3,265.8 L597.9,271.5 L597.3,276.2 L598.5,283.1 L599.1,287.7 L598.5,290.0 L593.9,290.6 L588.1,292.3 L586.9,292.5 L585.8,287.9 L582.4,284.5 L579.0,283.4 L573.3,286.8 L572.2,291.4 L568.8,292.5 L563.1,295.9 L559.7,294.8 L554.0,292.5 L548.3,293.6 L546.1,299.3 L540.4,303.8 L534.7,303.3 L529.0,303.8 L521.1,303.3 L512.0,302.7 L507.5,308.4 L506.3,312.9 L500.7,314.1 L490.4,317.5 L483.6,319.7 L480.0,304.3 L475.2,294.8 L470.5,285.2Z" fill="#dbe1b4"/><path d="M420.0,235.4 L424.6,234.8 L433.9,233.1 L440.8,231.4 L443.1,233.1 L444.8,237.7 L446.0,242.4 L446.6,248.1 L454.6,248.7 L460.4,248.1 L466.2,247.6 L467.3,251.6 L468.5,260.0 L470.5,268.6 L475.2,275.7 L470.5,285.2 L475.2,294.8 L480.0,304.3 L484.8,316.2 L480.0,325.7 L474.3,333.8 L469.5,338.6 L457.6,341.0 L445.7,339.8 L436.2,345.7 L431.6,340.5 L424.1,338.7 L416.5,336.8 L412.7,331.1 L405.2,327.3 L397.6,321.6 L390.0,316.0 L380.6,313.1 L376.8,303.7 L378.7,295.1 L379.6,280.0 L380.0,275.7 L391.9,272.1 L399.0,266.2 L396.7,254.3 L395.5,244.8 L396.7,240.0 L403.8,235.2 L422.9,234.0Z" fill="#f2f0b9"/><path d="M483.6,319.7 L490.4,317.5 L500.7,314.1 L506.3,312.9 L507.5,308.4 L512.0,302.7 L521.1,303.3 L529.0,303.8 L534.7,303.3 L540.4,303.8 L546.1,299.3 L548.3,293.6 L554.0,292.5 L559.7,294.8 L563.1,295.9 L568.8,292.5 L572.2,291.4 L573.3,286.8 L579.0,283.4 L582.4,284.5 L585.8,287.9 L586.9,292.5 L588.1,292.3 L593.9,290.6 L598.5,290.0 L599.1,287.7 L598.5,283.1 L597.3,276.2 L603.1,278.5 L610.0,281.9 L615.8,285.4 L620.4,287.7 L621.6,291.2 L627.3,293.5 L633.1,294.6 L635.4,295.8 L638.9,294.6 L643.5,298.1 L640.0,300.4 L634.3,301.6 L630.8,303.9 L634.3,306.2 L638.9,308.5 L635.4,313.1 L629.7,316.6 L626.2,318.9 L626.2,327.0 L627.3,333.9 L625.0,340.0 L617.1,341.0 L610.0,343.3 L607.6,352.9 L600.5,350.5 L595.7,352.9 L591.0,360.0 L581.4,362.4 L569.5,364.8 L560.0,362.4 L557.6,352.9 L552.9,345.7 L543.3,343.3 L533.8,343.3 L529.0,337.4 L521.9,338.6 L507.6,341.0 L495.7,339.8 L492.1,342.1 L488.6,338.6 L481.4,336.2 L474.3,333.8 L479.0,324.3 L483.8,319.5 L488.6,313.6Z" fill="#80a6a6"/><path d="M436.2,345.7 L445.7,339.8 L457.6,341.0 L469.5,338.6 L474.3,333.8 L481.4,336.2 L488.6,338.6 L492.1,342.1 L492.1,345.7 L498.1,357.6 L500.5,367.1 L510.0,371.9 L514.8,374.3 L517.1,381.4 L524.3,391.0 L529.0,398.1 L533.8,405.2 L532.6,412.4 L524.3,414.8 L526.7,421.9 L529.0,433.8 L527.6,434.3 L513.3,439.0 L512.3,445.6 L506.8,453.8 L498.6,464.8 L494.5,468.9 L487.6,478.5 L483.5,481.2 L479.4,482.6 L475.3,485.4 L471.2,488.1 L468.4,489.5 L465.7,493.6 L464.3,484.0 L461.6,482.6 L460.2,496.3 L462.9,499.8 L461.6,504.6 L464.3,508.7 L463.6,520.1 L461.0,515.2 L456.2,512.9 L451.4,508.1 L444.3,506.9 L434.8,510.5 L430.0,512.9 L422.9,516.4 L415.7,514.0 L406.2,510.5 L402.6,505.7 L399.0,501.0 L411.0,496.2 L413.3,491.4 L418.1,481.9 L422.9,477.1 L425.2,471.2 L433.6,468.8 L434.8,460.5 L432.4,451.0 L432.4,441.4 L435.5,440.1 L443.7,437.3 L445.1,446.9 L449.2,442.8 L451.9,444.2 L455.4,441.5 L461.6,448.3 L466.4,442.8 L472.5,449.7 L482.1,448.3 L479.4,441.5 L475.3,438.0 L476.6,433.2 L477.3,425.0 L474.6,421.6 L468.6,417.2 L462.5,412.0 L461.6,406.0 L459.0,401.6 L460.8,397.3 L462.5,391.3 L459.9,388.7 L455.6,391.3 L453.0,386.9 L449.5,382.6 L446.1,380.0 L445.7,376.7 L449.3,364.8 L448.1,355.2 L443.3,350.5Z" fill="#e6b386"/><path d="M492.1,342.1 L507.6,341.0 L521.9,338.6 L529.0,337.4 L533.8,343.3 L543.3,343.3 L552.9,345.7 L557.6,352.9 L560.0,362.4 L569.5,364.8 L581.4,362.4 L591.0,360.0 L595.7,352.9 L600.5,350.5 L607.6,351.7 L608.8,367.1 L611.2,377.9 L612.3,390.0 L612.3,396.9 L605.4,401.5 L604.2,407.3 L608.8,411.9 L606.5,416.5 L603.1,418.8 L600.8,421.2 L595.0,421.7 L589.2,421.2 L582.3,423.5 L577.7,424.6 L571.9,426.9 L566.2,428.7 L564.1,428.7 L561.7,435.9 L553.8,435.1 L549.0,434.3 L544.3,435.9 L541.1,434.3 L536.3,435.9 L530.0,435.1 L520.0,436.2 L529.0,433.8 L526.7,421.9 L524.3,414.8 L532.6,412.4 L533.8,405.2 L529.0,398.1 L524.3,391.0 L517.1,381.4 L514.8,374.3 L510.0,371.9 L500.5,367.1 L498.1,357.6 L492.1,345.7Z" fill="#5a8da6"/><path d="M611.2,377.9 L621.9,381.4 L636.2,379.0 L650.5,381.4 L660.0,381.4 L658.1,383.3 L662.9,390.5 L667.6,402.4 L672.4,409.5 L679.5,419.5 L681.9,431.4 L691.4,443.3 L696.2,452.9 L694.6,453.8 L687.7,459.6 L685.4,463.1 L687.7,474.6 L692.3,489.6 L690.0,489.6 L685.4,479.2 L683.1,470.0 L680.8,465.4 L678.5,463.1 L675.0,464.2 L673.8,470.0 L671.5,474.6 L668.1,473.5 L664.6,463.1 L662.3,458.5 L660.0,460.8 L656.5,458.5 L653.1,464.2 L646.2,460.2 L638.1,459.6 L634.6,460.8 L631.2,465.4 L626.5,468.8 L619.6,466.5 L615.6,464.8 L616.2,460.8 L611.5,464.2 L606.9,464.8 L600.0,466.5 L593.5,466.0 L585.6,468.4 L576.0,465.2 L574.4,461.3 L564.9,458.1 L558.6,456.5 L554.6,454.9 L556.2,452.5 L565.7,450.2 L566.5,445.4 L557.0,442.6 L561.7,443.0 L569.7,443.8 L577.6,445.4 L581.6,443.8 L591.1,434.3 L584.0,438.3 L577.6,439.0 L574.4,437.5 L569.7,439.0 L564.9,431.9 L564.1,428.7 L566.2,428.7 L571.9,426.9 L577.7,424.6 L582.3,423.5 L589.2,421.2 L595.0,421.7 L600.8,421.2 L603.1,418.8 L606.5,416.5 L608.8,411.9 L604.2,407.3 L605.4,401.5 L612.3,396.9 L612.3,390.0Z" fill="#2d6b98"/><path d="M658.1,383.3 L667.6,378.6 L685.5,378.6 L684.3,366.7 L683.1,357.1 L681.9,342.9 L691.4,341.7 L703.3,342.9 L715.2,342.9 L722.4,341.7 L729.5,344.0 L736.7,352.4 L739.0,357.1 L753.3,357.1 L755.7,352.4 L758.1,359.5 L762.9,369.0 L774.8,376.2 L781.9,381.0 L779.5,388.1 L772.4,395.2 L774.8,402.4 L779.5,409.5 L779.5,414.8 L772.3,418.1 L768.8,422.7 L767.7,428.5 L765.4,423.8 L760.8,422.7 L755.0,425.0 L749.2,428.5 L745.8,433.1 L742.3,430.8 L735.4,430.8 L728.5,433.1 L722.7,437.7 L718.1,442.3 L710.0,446.9 L705.4,451.5 L703.3,457.6 L695.0,466.0 L701.0,455.2 L701.0,448.1 L696.2,452.9 L691.4,443.3 L681.9,431.4 L679.5,419.5 L674.8,410.0 L667.6,402.4 L662.9,390.5Z" fill="#92b1ab"/><path d="M756.4,307.9 L759.3,302.4 L771.2,295.2 L783.1,288.1 L790.2,276.2 L795.0,270.2 L803.3,270.2 L809.3,271.4 L811.7,278.6 L818.8,290.5 L821.2,304.8 L828.3,319.0 L835.5,326.2 L847.4,338.1 L858.1,342.9 L858.2,346.3 L852.5,350.0 L846.9,353.8 L845.0,361.3 L837.5,365.0 L830.0,368.8 L826.3,376.3 L826.3,383.8 L828.2,387.5 L824.4,395.0 L822.5,402.5 L815.0,402.5 L805.7,404.4 L796.3,406.3 L786.9,411.9 L781.3,417.5 L779.4,410.0 L772.8,402.5 L771.9,391.3 L781.3,385.7 L781.3,380.0 L768.1,372.5 L762.5,368.8 L756.9,359.4 L755.0,353.8 L764.0,354.8 L766.4,347.6 L764.0,338.1 L767.6,333.3 L766.4,323.8 L764.0,311.9Z" fill="#6796a2"/><path d="M813.0,216.7 L817.8,216.7 L819.4,220.6 L825.7,222.2 L832.1,221.4 L836.8,225.4 L843.2,229.4 L849.5,226.2 L852.7,227.0 L854.3,231.7 L863.8,232.5 L868.6,234.9 L873.3,240.5 L879.7,242.9 L886.0,239.7 L891.6,239.7 L890.0,246.0 L889.2,249.2 L894.8,255.6 L894.0,260.3 L890.8,263.5 L886.0,266.7 L881.3,269.8 L879.7,274.6 L878.1,279.4 L881.3,282.5 L886.0,284.1 L890.8,284.1 L893.2,285.7 L890.8,288.9 L886.0,288.9 L882.9,290.5 L879.7,293.7 L879.7,300.0 L881.3,310.0 L890.1,314.4 L893.8,321.9 L888.2,338.8 L886.3,349.1 L871.3,350.0 L858.2,350.0 L858.1,342.9 L847.4,338.1 L835.5,326.2 L828.3,319.0 L821.2,304.8 L818.8,290.5 L811.7,278.6 L809.3,271.4 L803.3,270.2 L803.5,265.1 L805.1,260.3 L803.5,254.0 L805.1,247.6 L805.1,241.3 L807.5,234.9 L806.7,231.7 L808.3,225.4 L809.8,222.2Z" fill="#03508f"/><path d="M681.0,217.9 L683.3,215.5 L690.5,213.1 L700.0,207.1 L711.9,204.8 L718.4,199.2 L728.3,198.6 L735.7,206.6 L740.6,205.4 L745.5,207.2 L748.6,210.9 L752.9,207.2 L761.5,202.9 L768.9,201.1 L775.0,197.4 L781.2,196.1 L788.6,204.8 L789.8,210.9 L797.2,218.3 L803.3,222.0 L808.2,226.9 L808.3,225.4 L806.7,231.7 L807.5,234.9 L805.1,241.3 L805.1,247.6 L803.5,254.0 L805.1,260.3 L803.5,265.1 L803.3,270.2 L795.0,270.2 L790.2,276.2 L783.1,288.1 L771.2,295.2 L759.3,302.4 L756.9,307.1 L749.8,307.1 L740.2,311.9 L728.3,297.6 L716.4,288.1 L692.6,278.6 L686.7,276.2 L687.9,269.0 L699.8,264.3 L704.5,257.1 L702.1,247.6 L695.0,240.5 L692.6,235.7 L681.9,228.6 L681.2,220.2Z" fill="#fcf0b1"/><path d="M643.5,298.1 L649.3,299.3 L655.1,301.6 L657.4,302.7 L659.7,299.3 L659.7,294.6 L663.1,285.4 L667.8,283.1 L672.4,280.8 L680.0,277.3 L686.7,277.4 L692.6,278.6 L716.4,288.1 L728.3,297.6 L740.2,311.9 L749.8,307.1 L756.9,308.3 L764.0,311.9 L766.4,323.8 L767.6,333.3 L764.0,338.1 L766.4,347.6 L764.0,354.8 L753.3,357.1 L739.0,357.1 L736.7,352.4 L729.5,344.0 L722.4,341.7 L715.2,342.9 L703.3,342.9 L691.4,341.7 L681.9,342.9 L683.1,357.1 L684.3,366.7 L685.5,378.6 L667.6,378.6 L660.0,381.4 L650.5,381.4 L636.2,379.0 L621.9,381.4 L611.2,377.9 L608.8,367.1 L607.6,351.7 L610.0,343.3 L617.1,341.0 L624.3,333.8 L627.3,333.9 L626.2,327.0 L626.2,318.9 L629.7,316.6 L635.4,313.1 L638.9,308.5 L634.3,306.2 L630.8,303.9 L634.3,301.6 L640.0,300.4Z" fill="#c5463a"/><path d="M500.8,185.2 L505.2,184.9 L508.8,189.6 L511.7,191.0 L516.7,188.8 L518.9,185.9 L521.0,187.4 L520.3,192.4 L517.4,196.8 L515.3,201.8 L515.3,206.9 L513.8,209.8 L513.1,215.5 L512.0,219.9 L511.7,223.5 L510.2,223.5 L509.1,218.4 L507.7,213.4 L506.2,209.8 L504.4,206.9 L500.8,201.1 L498.7,196.1 L497.9,192.4 L499.4,189.6Z" fill="#c8453a"/><path d="M544.3,438.7 L550.6,439.8 L557.0,442.2 L553.8,443.8 L549.8,443.8Z" fill="#5a8da6"/><path d="M547.5,457.3 L549.0,457.1 L569.7,463.3 L569.3,464.1Z" fill="#2d6b98"/><path d="M591.1,470.0 L607.8,472.0 L608.2,473.3 L591.1,471.0Z" fill="#2d6b98"/><path class="crl" d="M692.6,493.1 L713.4,515.8"/><path class="crl" d="M630.1,547.0 L636.8,550.8 L634.9,556.5 L638.7,562.2 L642.4,567.9 L644.3,572.6"/><path d="M483.5,449.0 L487.6,448.3 L493.1,455.2 L498.6,463.4 L497.2,466.2 L491.7,459.3 L484.9,452.4Z" fill="#fff"/><path d="M556.9,401.0 L558.7,405.0 L559.8,407.3 L561.5,413.1 L563.3,416.5 L562.1,423.5 L561.5,428.1 L563.3,432.1 L561.0,432.1 L559.8,426.9 L560.4,422.3 L561.0,416.5 L559.2,411.9 L557.5,406.2 L556.3,401.5Z" fill="#fff"/><path d="M540.8,424.6 L544.2,429.8 L547.7,424.6 L544.8,431.5 L542.5,433.3Z" fill="#fff"/></g>
<g class="lab"><text x="293" y="143">685</text><text x="354" y="158" class="w">188</text><text x="430" y="179">621</text><text x="509" y="201" class="w">1992</text><text x="563" y="146">338</text><text x="657" y="180">1722</text><text x="238" y="229">282</text><text x="309" y="250">302</text><text x="365" y="244" class="w">239</text><text x="505" y="235">485</text><text x="537" y="274">857</text><text x="647" y="252">1193</text><text x="745" y="247">1030</text><text x="849" y="285" class="w">6</text><text x="210" y="302">530</text><text x="263" y="292" class="w">57</text><text x="436" y="294">950</text><text x="582" y="323">504</text><text x="660" y="343" class="w">1946</text><text x="797" y="348">412</text><text x="315" y="321" class="w">257</text><text x="490" y="395">1310</text><text x="566" y="390">365</text><text x="717" y="394">569</text><text x="626" y="428" class="w">167</text></g>
</svg>
<div class="legend"></div>
<div class="tick" style="left:460.5px"></div><div class="tick" style="left:522.6px"></div><div class="tick" style="left:585.4px"></div>
<div class="ll" style="left:404px">0</div><div class="ll" style="left:462px">500</div><div class="ll" style="left:525px">1000</div><div class="ll" style="left:587px">1500</div><div class="ll" style="left:633px">2…</div>
</body></html>
